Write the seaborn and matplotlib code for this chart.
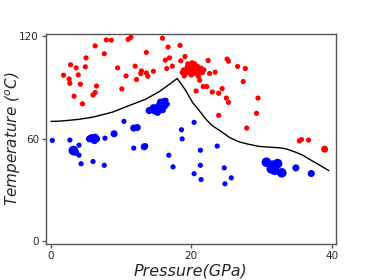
import numpy as np
import pandas as pd
import matplotlib
matplotlib.use('Agg')
import matplotlib.pyplot as plt
import seaborn as sns

# red points (above the boundary): pressure (GPa), temperature (C), marker class
red_p = [1.8, 2.6, 2.7, 2.8, 3.3, 3.6, 3.9, 4.2, 4.5, 4.9, 5.0, 6.0, 6.3, 6.3, 6.5,
         7.6, 7.9, 8.6, 9.5, 10.1, 10.7, 11.0, 11.4, 12.0, 12.2, 12.8, 12.9, 13.6,
         13.6, 13.8, 14.6, 15.9, 16.3, 16.5, 16.7, 16.9, 17.3, 18.4, 18.5, 19.1,
         18.7, 18.9, 19.1, 19.3, 19.4, 19.6, 19.8, 19.9, 20.0, 20.2, 20.3, 20.5,
         20.6, 20.8, 20.9, 21.1, 21.2, 21.4, 21.6, 21.8, 19.5, 20.1, 21.0, 19.0,
         21.2, 20.7, 21.7, 22.2, 22.4, 22.6, 23.4, 23.0, 23.9, 24.4, 23.9, 25.0,
         25.3, 25.1, 25.3, 26.6, 27.7, 27.4, 29.5, 29.3, 27.9, 35.4, 35.7, 36.7, 39.0]
red_t = [96.9, 94.7, 92.2, 103.0, 84.7, 101.2, 97.1, 91.7, 80.2, 101.8, 107.0, 85.4,
         86.8, 114.0, 90.6, 109.4, 117.5, 117.3, 101.2, 88.9, 96.5, 117.8, 119.0,
         102.2, 94.4, 97.9, 99.4, 98.2, 110.2, 96.3, 99.2, 118.5, 105.7, 100.8, 113.3,
         107.0, 102.2, 114.3, 105.3, 107.8,
         98.5, 100.0, 97.5, 99.5, 101.5, 98.3, 100.2, 102.5, 97.0, 99.0, 101.0, 103.5,
         98.0, 100.0, 102.0, 97.5, 99.5, 101.0, 98.5, 100.0, 103.5, 104.2, 96.3, 96.5,
         94.0, 87.7, 90.3, 90.3, 105.5, 97.9, 98.7, 87.1, 86.4, 89.1, 73.5, 83.6,
         81.1, 106.3, 105.1, 102.0, 100.8, 93.2, 83.6, 74.7, 66.1, 58.6, 59.4, 59.1, 53.8]
red_sz = ['S'] * 88 + ['M']

# blue points (below the boundary)
blue_p = [0.2, 2.7, 4.0, 3.2, 3.5, 4.0, 4.3, 6.0, 7.6,
          5.5, 5.8, 6.1, 6.3, 6.5, 6.2, 7.7, 9.0, 10.4, 11.8, 12.3, 11.8, 13.3, 13.5,
          14.0, 14.4, 14.8, 15.2, 15.0, 15.5, 15.4, 15.8, 15.9, 16.1, 15.6, 14.6, 15.9, 16.2,
          16.4, 16.6, 16.8, 17.4, 18.6, 18.7, 20.4, 21.3, 21.3, 20.4, 21.4, 23.7,
          24.7, 25.7, 24.8,
          30.7, 31.4, 31.9, 32.3, 32.9, 31.6, 34.9, 37.1]
blue_t = [58.9, 59.1, 56.1, 53.0, 52.0, 50.3, 45.3, 46.6, 44.4,
          59.8, 60.5, 59.5, 60.8, 59.8, 58.8, 60.2, 62.8, 70.0, 66.1, 66.4, 54.4, 55.2, 55.8,
          76.3, 77.0, 76.0, 75.3, 77.8, 77.0, 79.2, 78.3, 80.5, 81.6, 81.2, 78.0, 76.8, 79.0,
          82.3, 80.0, 50.3, 43.5, 65.1, 59.8, 69.4, 53.2, 44.4, 39.5, 36.1, 55.6,
          42.9, 37.1, 33.6,
          46.2, 42.3, 41.5, 45.4, 40.0, 44.5, 42.9, 39.6]
blue_sz = (['S'] * 3 + ['L', 'M'] + ['S'] * 4
           + ['M'] * 6 + ['S', 'M', 'S', 'M', 'M', 'S', 'M', 'S']
           + ['M'] * 14
           + ['S'] * 15
           + ['L'] * 6 + ['M', 'M'])

# phase boundary
curve_p = [0, 1, 2, 4, 6, 8.8, 11.0, 13.5, 15.5, 16.5, 18.0, 19.1, 20.2, 21.0, 22.1,
           23.0, 24.5, 25.5, 26.8, 28.0, 29.7, 31.0, 32.6, 33.5, 34.9, 36.0, 37.3,
           38.5, 39.6]
curve_t = [70.0, 70.1, 70.4, 71.2, 72.5, 75.4, 79.0, 82.9, 87.5, 90.5, 95.0, 88.7,
           80.9, 77.0, 71.2, 67.5, 63.4, 60.5, 58.1, 56.8, 55.4, 55.0, 54.6, 54.0,
           52.0, 50.0, 46.8, 44.0, 41.3]

red = pd.DataFrame({'p': red_p, 't': red_t, 'sz': red_sz})
blue = pd.DataFrame({'p': blue_p, 't': blue_t, 'sz': blue_sz})
curve = pd.DataFrame({'p': curve_p, 't': curve_t})

sns.set_style('ticks')
fig = plt.figure(figsize=(3.74, 2.8), dpi=100)
ax = fig.add_axes([0.123, 0.129, 0.775, 0.75])

sizes = {'S': 14, 'M': 26, 'L': 48}
sns.scatterplot(data=red, x='p', y='t', size='sz', sizes=sizes, color='red',
                linewidth=0, legend=False, ax=ax)
sns.scatterplot(data=blue, x='p', y='t', size='sz', sizes=sizes, color='blue',
                linewidth=0, legend=False, ax=ax)
sns.lineplot(data=curve, x='p', y='t', color='black', linewidth=1.0, sort=False, ax=ax)

ax.set_xlim(-0.7, 40.6)
ax.set_ylim(-1.4, 121)
ax.set_xticks([0, 20, 40])
ax.set_yticks([0, 60, 120])
ax.tick_params(labelsize=7.5, length=3, width=1, color='#555555', pad=2)
for s in ax.spines.values():
    s.set_color('#555555')
    s.set_linewidth(1.0)

ax.set_xlabel('Pressure(GPa)', fontsize=11.5, style='italic', labelpad=2)
ax.set_ylabel(r'Temperature ($^o$C)', fontsize=11, style='italic')
ax.yaxis.set_label_coords(-0.08, 0.5)

fig.savefig('out.png', dpi=100)
